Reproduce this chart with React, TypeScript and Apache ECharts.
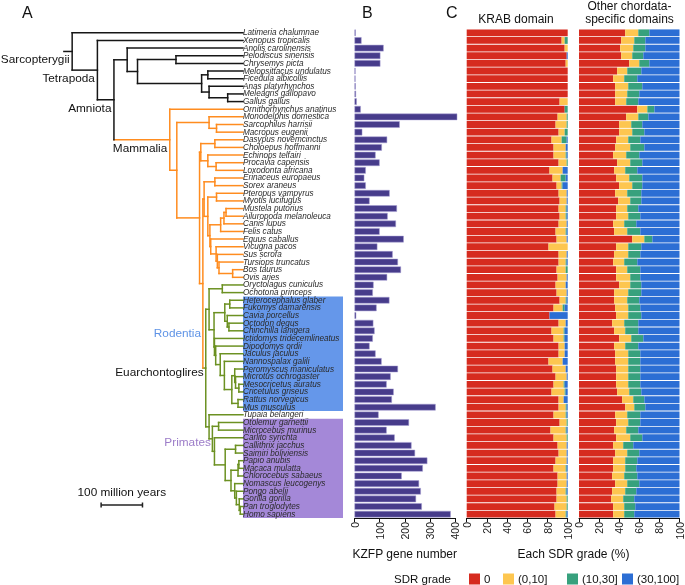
import React, { useEffect, useRef } from "react";
import * as echarts from "echarts";

// ---------------- data ----------------
const species = [
  "Latimeria chalumnae", "Xenopus tropicalis", "Anolis carolinensis", "Pelodiscus sinensis", "Chrysemys picta",
  "Melopsittacus undulatus", "Ficedula albicollis", "Anas platyrhynchos", "Meleagris gallopavo", "Gallus gallus",
  "Ornithorhynchus anatinus", "Monodelphis domestica", "Sarcophilus harrisii", "Macropus eugenii", "Dasypus novemcinctus",
  "Choloepus hoffmanni", "Echinops telfairi", "Procavia capensis", "Loxodonta africana", "Erinaceus europaeus",
  "Sorex araneus", "Pteropus vampyrus", "Myotis lucifugus", "Mustela putorius", "Ailuropoda melanoleuca",
  "Canis lupus", "Felis catus", "Equus caballus", "Vicugna pacos", "Sus scrofa",
  "Tursiops truncatus", "Bos taurus", "Ovis aries", "Oryctolagus cuniculus", "Ochotona princeps",
  "Heterocephalus glaber", "Fukomys damarensis", "Cavia porcellus", "Octodon degus", "Chinchilla lanigera",
  "Ictidomys tridecemlineatus", "Dipodomys ordii", "Jaculus jaculus", "Nannospalax galili", "Peromyscus maniculatus",
  "Microtus ochrogaster", "Mesocricetus auratus", "Cricetulus griseus", "Rattus norvegicus", "Mus musculus",
  "Tupaia belangeri", "Otolemur garnettii", "Microcebus murinus", "Carlito syrichta", "Callithrix jacchus",
  "Saimiri boliviensis", "Papio anubis", "Macaca mulatta", "Chlorocebus sabaeus", "Nomascus leucogenys",
  "Pongo abelii", "Gorilla gorilla", "Pan troglodytes", "Homo sapiens",
];

const kzfpGeneNumber = [
  5, 28, 116, 103, 103, 4, 4, 5, 6, 9,
  25, 409, 180, 31, 130, 109, 84, 100, 45, 39,
  45, 140, 60, 169, 132, 165, 100, 196, 91, 152,
  173, 185, 130, 76, 73, 139, 88, 7, 75, 80,
  73, 60, 84, 108, 173, 144, 128, 156, 149, 323,
  96, 217, 128, 160, 227, 241, 290, 272, 188, 257,
  264, 245, 268, 383,
];

const sdrGrades = ["0", "(0,10]", "(10,30]", "(30,100]"];

// KRAB domain: share (%) of each SDR grade
const krabGrade0 = [100, 94, 97, 99, 98, 100, 100, 100, 100, 92, 97, 90, 88, 91, 84, 86, 86, 91, 82, 85, 89, 91, 92, 91, 92, 91, 88, 89, 81, 91, 91, 89, 90, 88, 89, 92, 86, 82, 91, 84, 86, 91, 91, 81, 85, 88, 86, 84, 91, 91, 86, 92, 83, 86, 90, 91, 88, 86, 90, 90, 89, 89, 87, 88];
const krabGrade10 = [0, 3, 3, 0, 2, 0, 0, 0, 0, 8, 0, 9, 11, 6, 10, 12, 12, 8, 13, 8, 5, 8, 7, 7, 6, 8, 10, 10, 19, 8, 7, 9, 9, 10, 10, 6, 9, 0, 7, 12, 10, 6, 6, 14, 13, 11, 10, 13, 5, 7, 12, 7, 15, 13, 9, 8, 11, 12, 9, 9, 9, 10, 12, 10];
const krabGrade30 = [0, 3, 0, 0, 0, 0, 0, 0, 0, 0, 3, 1, 1, 3, 5, 0, 1, 1, 0, 5, 1, 0, 0, 1, 1, 0, 1, 0, 0, 0, 1, 2, 0, 0, 0, 1, 2, 0, 0, 1, 1, 0, 0, 0, 0, 0, 1, 1, 0, 1, 1, 1, 1, 1, 0, 0, 0, 1, 0, 0, 1, 1, 1, 1];
const krabGrade100 = [0, 0, 0, 1, 0, 0, 0, 0, 0, 0, 0, 0, 0, 0, 1, 2, 1, 0, 5, 2, 5, 1, 1, 1, 1, 1, 1, 1, 0, 1, 1, 0, 1, 2, 1, 1, 3, 18, 2, 3, 3, 3, 3, 5, 2, 1, 3, 2, 4, 1, 1, 0, 1, 0, 1, 1, 1, 1, 1, 1, 1, 0, 0, 1];

// Other chordata-specific domains
const otherGrade0 = [46, 42, 41, 42, 50, 38, 34, 36, 36, 36, 58, 47, 40, 40, 37, 36, 34, 38, 35, 37, 40, 36, 39, 37, 37, 34, 35, 53, 37, 35, 34, 37, 37, 40, 35, 35, 36, 37, 33, 35, 40, 35, 36, 36, 37, 37, 37, 38, 43, 46, 36, 37, 35, 37, 34, 36, 34, 34, 33, 36, 33, 32, 34, 34];
const otherGrade10 = [13, 13, 13, 11, 10, 10, 11, 13, 12, 11, 10, 12, 12, 13, 12, 15, 13, 13, 11, 13, 13, 12, 12, 11, 12, 11, 13, 12, 12, 14, 11, 11, 14, 11, 14, 13, 13, 12, 12, 11, 12, 11, 13, 13, 12, 12, 12, 12, 11, 9, 12, 12, 12, 14, 10, 12, 12, 12, 12, 12, 13, 12, 11, 11];
const otherGrade30 = [11, 11, 12, 11, 10, 14, 13, 14, 12, 12, 7, 10, 11, 12, 12, 14, 13, 12, 12, 13, 10, 14, 11, 11, 12, 12, 13, 8, 13, 12, 13, 13, 10, 11, 13, 12, 12, 13, 14, 13, 12, 13, 12, 12, 12, 12, 12, 12, 11, 11, 13, 12, 12, 12, 10, 12, 12, 11, 13, 12, 11, 11, 11, 10];
const otherGrade100 = [30, 34, 34, 36, 30, 38, 42, 37, 40, 41, 25, 31, 37, 35, 39, 35, 40, 37, 42, 37, 37, 38, 38, 41, 39, 43, 39, 27, 38, 39, 42, 39, 39, 38, 38, 40, 39, 38, 41, 41, 36, 41, 39, 39, 39, 39, 39, 38, 35, 34, 39, 39, 41, 37, 46, 40, 42, 43, 42, 40, 43, 45, 44, 45];

// Time tree (node ages in million years ago)
type TNode = { id: string; age: number; kids: (TNode | string)[] };
const N = (id: string, age: number, kids: (TNode | string)[]): TNode => ({ id, age, kids });

const timeTree = N("Sarcopterygii", 413, [
  "Latimeria chalumnae",
  N("Tetrapoda", 352, [
    "Xenopus tropicalis",
    N("Amniota", 312, [
      N("Sauropsida", 280, [
        "Anolis carolinensis",
        N("Archelosauria", 255, [
          N("Testudines", 162, ["Pelodiscus sinensis", "Chrysemys picta"]),
          N("Neognathae", 100, [
            N("Neoaves", 85, ["Melopsittacus undulatus", "Ficedula albicollis"]),
            N("Galloanserae", 82, ["Anas platyrhynchos", N("Phasianidae", 37, ["Meleagris gallopavo", "Gallus gallus"])]),
          ]),
        ]),
      ]),
      N("Mammalia", 177, [
        "Ornithorhynchus anatinus",
        N("Theria", 160, [
          N("Marsupialia", 82, ["Monodelphis domestica", N("Australidelphia", 64, ["Sarcophilus harrisii", "Macropus eugenii"])]),
          N("Eutheria", 105, [
            N("Atlantogenata", 102, [
              N("Xenarthra", 68, ["Dasypus novemcinctus", "Choloepus hoffmanni"]),
              N("Afrotheria", 85, ["Echinops telfairi", N("Paenungulata", 65, ["Procavia capensis", "Loxodonta africana"])]),
            ]),
            N("Boreoeutheria", 97, [
              N("Laurasiatheria", 94, [
                N("Eulipotyphla", 68, ["Erinaceus europaeus", "Sorex araneus"]),
                N("Scrotifera", 85, [
                  N("Chiroptera", 64, ["Pteropus vampyrus", "Myotis lucifugus"]),
                  N("Fereuungulata", 80, [
                    N("Carnivora", 54, [
                      N("Caniformia", 46, [N("Arctoidea", 41, ["Mustela putorius", "Ailuropoda melanoleuca"]), "Canis lupus"]),
                      "Felis catus",
                    ]),
                    N("Euungulata", 78, [
                      "Equus caballus",
                      N("Cetartiodactyla", 65, [
                        "Vicugna pacos",
                        N("Artiofabula", 62, ["Sus scrofa", N("Cetruminantia", 58, ["Tursiops truncatus", N("Pecora", 25, ["Bos taurus", "Ovis aries"])])]),
                      ]),
                    ]),
                  ]),
                ]),
              ]),
              N("Euarchontoglires", 90, [
                N("Glires", 82, [
                  N("Lagomorpha", 50, ["Oryctolagus cuniculus", "Ochotona princeps"]),
                  N("Rodentia", 70, [
                    N("Hystricognathi", 44, [
                      N("Phiomorpha", 32, ["Heterocephalus glaber", "Fukomys damarensis"]),
                      N("Caviomorpha", 38, ["Cavia porcellus", N("Chinchilloctodon", 34, ["Octodon degus", "Chinchilla lanigera"])]),
                    ]),
                    N("SciuroMyo", 69, [
                      "Ictidomys tridecemlineatus",
                      N("MouseRelated", 66, [
                        "Dipodomys ordii",
                        N("Myomorpha", 55, [
                          "Jaculus jaculus",
                          N("Muroidea", 45, [
                            "Nannospalax galili",
                            N("Eumuroida", 27, [
                              N("Cricetidae", 20, [
                                "Peromyscus maniculatus",
                                N("ArvCric", 18, ["Microtus ochrogaster", N("Cricetinae", 10, ["Mesocricetus auratus", "Cricetulus griseus"])]),
                              ]),
                              N("Murinae", 12, ["Rattus norvegicus", "Mus musculus"]),
                            ]),
                          ]),
                        ]),
                      ]),
                    ]),
                  ]),
                ]),
                N("Euarchonta", 82, [
                  "Tupaia belangeri",
                  N("Primates", 74, [
                    N("Strepsirrhini", 59, ["Otolemur garnettii", "Microcebus murinus"]),
                    N("Haplorhini", 69, [
                      "Carlito syrichta",
                      N("Simiiformes", 43, [
                        N("Platyrrhini", 18, ["Callithrix jacchus", "Saimiri boliviensis"]),
                        N("Catarrhini", 29, [
                          N("Cercopithecinae", 12, [N("Papionini", 10, ["Papio anubis", "Macaca mulatta"]), "Chlorocebus sabaeus"]),
                          N("Hominoidea", 20, [
                            "Nomascus leucogenys",
                            N("Hominidae", 16, ["Pongo abelii", N("Homininae", 9, ["Gorilla gorilla", N("Hominini", 6.5, ["Pan troglodytes", "Homo sapiens"])])]),
                          ]),
                        ]),
                      ]),
                    ]),
                  ]),
                ]),
              ]),
            ]),
          ]),
        ]),
      ]),
    ]),
  ]),
]);

const cladeLabels = ["Sarcopterygii", "Tetrapoda", "Amniota", "Mammalia", "Rodentia", "Euarchontoglires", "Primates"];
const highlightedClades = ["Rodentia", "Primates"];

// ---------------- styles ----------------
const FONT = "'Liberation Sans', Arial, Helvetica, sans-serif";
const cladeColors: Record<string, string> = {
  Sarcopterygii: "#161616",
  Mammalia: "#FF8C1F",
  Euarchontoglires: "#6C9122",
};
const labelColors: Record<string, string> = { Rodentia: "#5E93E6", Primates: "#9C7CC8" };
const boxColors: Record<string, string> = { Rodentia: "#6597EA", Primates: "#A488D8" };
const labelShift: Record<string, [number, number]> = {
  Rodentia: [-13, 3.5],
  Euarchontoglires: [-2, 4],
  Primates: [-1.5, 3.5],
};
const gradeColors = ["#D62B1F", "#FDC650", "#37A17D", "#2C6ED4"];
const barColor = "#473C8B";

const ROOT_STEM_AGE = 433;
const TIP_SPAN = 241.8; // extra x-range (right of tips) in My units, for the label area

// ---------------- tree layout (data space) ----------------
type Item =
  | { kind: "seg"; x1: number; y1: number; x2: number; y2: number; c: string }
  | { kind: "rect"; y1: number; y2: number; c: string }
  | { kind: "label"; x: number; y: number; text: string; c: string; dx: number; dy: number }
  | { kind: "scale" };

function buildTree(): Item[] {
  const segs: Item[] = [];
  const labels: Item[] = [];
  const rects: Item[] = [];
  const leafRange: Record<string, [number, number]> = {};
  const walk = (n: TNode | string, parentAge: number | null, inherited: string): [number, number, number] => {
    if (typeof n === "string") {
      const y = species.indexOf(n);
      if (parentAge !== null) segs.push({ kind: "seg", x1: parentAge, y1: y, x2: 0, y2: y, c: inherited });
      return [y, y, y];
    }
    const col = cladeColors[n.id] ?? inherited;
    const res = n.kids.map((k) => walk(k, n.age, col));
    const yFirst = res[0][0];
    const yLast = res[res.length - 1][0];
    const y = (yFirst + yLast) / 2;
    const lo = Math.min(...res.map((r) => r[1]));
    const hi = Math.max(...res.map((r) => r[2]));
    segs.push({ kind: "seg", x1: n.age, y1: yFirst, x2: n.age, y2: yLast, c: col });
    segs.push({ kind: "seg", x1: parentAge ?? ROOT_STEM_AGE, y1: y, x2: n.age, y2: y, c: col });
    leafRange[n.id] = [lo, hi];
    if (cladeLabels.includes(n.id)) {
      const sh = labelShift[n.id] ?? [-2.5, 8];
      labels.push({ kind: "label", x: n.age, y, text: n.id, c: labelColors[n.id] ?? "#111", dx: sh[0], dy: sh[1] });
    }
    return [y, lo, hi];
  };
  walk(timeTree, null, "#161616");
  for (const id of highlightedClades) {
    const r = leafRange[id];
    rects.push({ kind: "rect", y1: r[0] - 0.5, y2: r[1] + 0.5, c: boxColors[id] });
  }
  return [...rects, ...segs, ...labels, { kind: "scale" }];
}

const GRID_TOP = 29;
const GRID_H = 489;

export default function App() {
  const ref = useRef<HTMLDivElement>(null);
  useEffect(() => {
    if (!ref.current) return;
    const chart = echarts.init(ref.current, undefined, { renderer: "svg" });
    const items = buildTree();

    const renderItem = (params: any, api: any) => {
      const it = items[params.dataIndex];
      if (it.kind === "seg") {
        const p1 = api.coord([it.x1, it.y1]);
        const p2 = api.coord([it.x2, it.y2]);
        return {
          type: "line",
          shape: { x1: p1[0], y1: p1[1], x2: p2[0], y2: p2[1] },
          style: { stroke: it.c, lineWidth: 1.5, lineCap: "square" },
        };
      }
      if (it.kind === "rect") {
        const p1 = api.coord([0, it.y1]);
        const p2 = api.coord([-TIP_SPAN, it.y2]);
        return {
          type: "rect",
          shape: { x: p1[0], y: p1[1], width: p2[0] - p1[0], height: p2[1] - p1[1] },
          style: { fill: it.c },
        };
      }
      if (it.kind === "label") {
        const p = api.coord([it.x, it.y]);
        return {
          type: "text",
          x: p[0] + it.dx,
          y: p[1] + it.dy,
          style: { text: it.text, fill: it.c, fontSize: 11.8, fontFamily: FONT, align: "right", verticalAlign: "middle" },
        };
      }
      // scale bar: 100 million years
      const a = api.coord([343, 61.8]);
      const b = api.coord([243, 61.8]);
      const st = { stroke: "#222", lineWidth: 1.5 };
      return {
        type: "group",
        children: [
          { type: "line", shape: { x1: a[0], y1: a[1], x2: b[0], y2: b[1] }, style: st },
          { type: "line", shape: { x1: a[0], y1: a[1] - 2.5, x2: a[0], y2: a[1] + 2.5 }, style: st },
          { type: "line", shape: { x1: b[0], y1: b[1] - 2.5, x2: b[0], y2: b[1] + 2.5 }, style: st },
          {
            type: "text",
            x: (a[0] + b[0]) / 2,
            y: a[1] - 13.5,
            style: { text: "100 million years", fill: "#111", fontSize: 11.8, fontFamily: FONT, align: "center", verticalAlign: "middle" },
          },
        ],
      };
    };

    const hiddenCat = (gridIndex: number) => ({
      type: "category",
      gridIndex,
      data: species,
      inverse: true,
      axisLine: { show: false },
      axisTick: { show: false },
      axisLabel: { show: false },
    });
    const pctAxis = (gridIndex: number) => ({
      type: "value",
      gridIndex,
      min: 0,
      max: 100,
      interval: 20,
      splitLine: { show: false },
      axisLine: { show: true, lineStyle: { color: "#111", width: 1 } },
      axisTick: { show: true, length: 4, lineStyle: { color: "#111" } },
      axisLabel: { rotate: 90, fontSize: 10.5, color: "#222", margin: 4, fontFamily: FONT },
    });

    const stackSeries = (prefix: string, gridIndex: number, arrays: number[][]) =>
      arrays.map((arr, k) => ({
        name: sdrGrades[k],
        type: "bar",
        stack: prefix,
        xAxisIndex: gridIndex,
        yAxisIndex: gridIndex,
        data: arr,
        barCategoryGap: "11%",
        itemStyle: { color: gradeColors[k] },
        emphasis: { disabled: true },
      }));

    const legendLefts = [469, 503, 567, 622];

    chart.setOption({
      animation: false,
      textStyle: { fontFamily: FONT },
      grid: [
        { left: 61, top: GRID_TOP, width: 282, height: GRID_H },
        { left: 354.5, top: GRID_TOP, width: 100.5, height: GRID_H },
        { left: 466.7, top: GRID_TOP, width: 101, height: GRID_H },
        { left: 579, top: GRID_TOP, width: 101, height: GRID_H },
      ],
      xAxis: [
        { type: "value", gridIndex: 0, min: -TIP_SPAN, max: 440, inverse: true, show: false },
        {
          type: "value",
          gridIndex: 1,
          min: 0,
          max: 400,
          interval: 100,
          splitLine: { show: false },
          axisLine: { show: true, lineStyle: { color: "#111", width: 1 } },
          axisTick: { show: true, length: 4, lineStyle: { color: "#111" } },
          axisLabel: { rotate: 90, fontSize: 10.5, color: "#222", margin: 4, fontFamily: FONT },
          name: "KZFP gene number",
          nameLocation: "middle",
          nameGap: 30,
          nameTextStyle: { fontSize: 12, color: "#111", fontFamily: FONT },
        },
        pctAxis(2),
        pctAxis(3),
      ],
      yAxis: [
        { type: "value", gridIndex: 0, min: -0.5, max: 63.5, inverse: true, show: false },
        {
          type: "category",
          gridIndex: 1,
          data: species,
          inverse: true,
          z: 5,
          axisLine: { show: false },
          axisTick: { show: false },
          axisLabel: {
            align: "left",
            margin: 111.5,
            fontSize: 8.2,
            fontStyle: "italic",
            color: "#2a2a2a",
            fontFamily: FONT,
            interval: 0,
          },
        },
        hiddenCat(2),
        hiddenCat(3),
      ],
      legend: legendLefts.map((left, k) => ({
        data: [sdrGrades[k]],
        left,
        top: 573,
        padding: 0,
        itemWidth: 11,
        itemHeight: 11,
        itemGap: 0,
        icon: "rect",
        selectedMode: false,
        textStyle: { fontSize: 11.5, color: "#111", fontFamily: FONT, padding: [0, 0, 0, -1] },
      })),
      graphic: [
        { type: "text", left: 22, top: 4, style: { text: "A", fontSize: 16, fill: "#111", fontFamily: FONT } },
        { type: "text", left: 362, top: 4, style: { text: "B", fontSize: 16, fill: "#111", fontFamily: FONT } },
        { type: "text", left: 446, top: 4, style: { text: "C", fontSize: 16, fill: "#111", fontFamily: FONT } },
        { type: "text", x: 516, y: 19, style: { text: "KRAB domain", fontSize: 12, fill: "#111", fontFamily: FONT, align: "center", verticalAlign: "middle" } },
        { type: "text", x: 629.5, y: 5.5, style: { text: "Other chordata-", fontSize: 12, fill: "#111", fontFamily: FONT, align: "center", verticalAlign: "middle" } },
        { type: "text", x: 629.5, y: 19, style: { text: "specific domains", fontSize: 12, fill: "#111", fontFamily: FONT, align: "center", verticalAlign: "middle" } },
        { type: "text", x: 573.5, y: 554, style: { text: "Each SDR grade (%)", fontSize: 12, fill: "#111", fontFamily: FONT, align: "center", verticalAlign: "middle" } },
        { type: "text", x: 451, y: 578.5, style: { text: "SDR grade", fontSize: 11.5, fill: "#111", fontFamily: FONT, align: "right", verticalAlign: "middle" } },
      ],
      series: [
        {
          type: "custom",
          xAxisIndex: 0,
          yAxisIndex: 0,
          z: 1,
          silent: true,
          data: items.map((_, i) => [i]),
          renderItem,
        },
        {
          type: "bar",
          xAxisIndex: 1,
          yAxisIndex: 1,
          data: kzfpGeneNumber,
          barCategoryGap: "14%",
          clip: false,
          itemStyle: { color: barColor, borderColor: "#A49CD2", borderWidth: 0.5 },
          emphasis: { disabled: true },
        },
        ...stackSeries("krab", 2, [krabGrade0, krabGrade10, krabGrade30, krabGrade100]),
        ...stackSeries("other", 3, [otherGrade0, otherGrade10, otherGrade30, otherGrade100]),
      ],
    });
    return () => chart.dispose();
  }, []);
  return <div ref={ref} style={{ position: "fixed", left: 0, top: 0, width: 685, height: 585 }} />;
}
